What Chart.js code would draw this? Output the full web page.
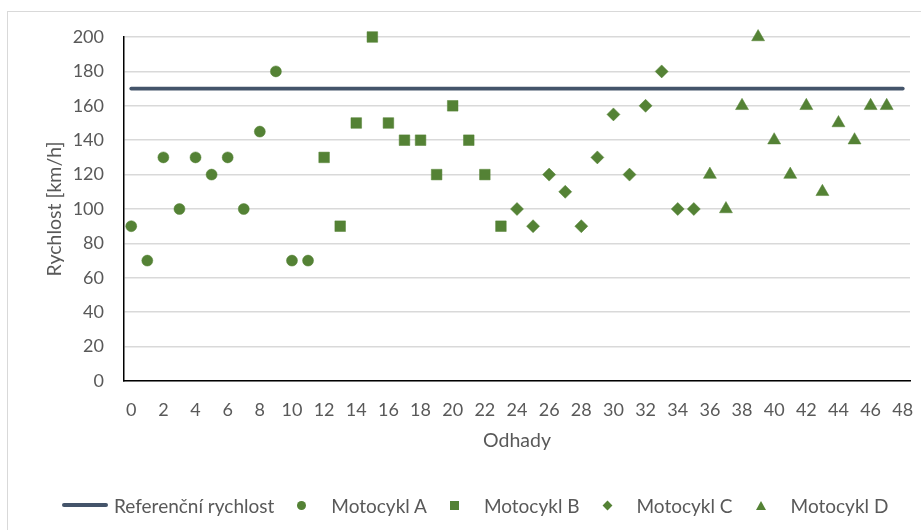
<!DOCTYPE html>
<html>
<head>
<meta charset="utf-8">
<script src="https://cdn.jsdelivr.net/npm/chart.js@4"></script>
<style>
  html, body { margin: 0; padding: 0; background: #fff; }
  #wrap { position: relative; width: 921px; height: 530px; overflow: hidden; }
  #frame { position: absolute; left: 7px; top: 11px; width: 960px; height: 560px;
           border-left: 1px solid #d9d9d9; border-top: 1px solid #d9d9d9; }
  #chart { position: absolute; left: 0; top: 0; }
  #legend { position: absolute; left: 62px; top: 494px; height: 22px; display: flex;
            align-items: center; font: 19px Lato, sans-serif; color: #595959; white-space: nowrap; }
  .mk { display: inline-block; flex: none; }
</style>
</head>
<body>
<div id="wrap">
  <div id="frame"></div>
  <canvas id="chart" width="921" height="530"></canvas>
  <div id="legend"></div>
</div>
<script>
const odhadyTicks = [0, 2, 4, 6, 8, 10, 12, 14, 16, 18, 20, 22, 24, 26, 28, 30, 32, 34, 36, 38, 40, 42, 44, 46, 48];
const refOdhady = [0, 48];
const refRychlost = [170, 170];

const motoA = [90, 70, 130, 100, 130, 120, 130, 100, 145, 180, 70, 70];
const motoB = [130, 90, 150, 200, 150, 140, 140, 120, 160, 140, 120, 90];
const motoC = [100, 90, 120, 110, 90, 130, 155, 120, 160, 180, 100, 100];
const motoD = [120, 100, 160, 200, 140, 120, 160, 110, 150, 140, 160, 160];

// first estimate number of each motorcycle
const seriesStart = [0, 12, 24, 36];
const seriesNames = ["Referenční rychlost", "Motocykl A", "Motocykl B", "Motocykl C", "Motocykl D"];

const green = "#548235";
const navy = "#44546A";
const FONT = "Lato, sans-serif";

const pointSets = [motoA, motoB, motoC, motoD];
const styles = ["circle", "rect", "rectRot", "triangle"];
const radii = [5.5, 7.5, 6.5, 7.5];

const datasets = [
  {
    type: "line",
    label: seriesNames[0],
    data: refOdhady.map((x, i) => ({ x: x, y: refRychlost[i] })),
    borderColor: navy,
    borderWidth: 3.75,
    borderCapStyle: "round",
    pointRadius: 0,
    fill: false,
    clip: false,
    order: 5
  }
].concat(pointSets.map((vals, s) => ({
  type: "scatter",
  label: seriesNames[s + 1],
  data: vals.map((v, i) => ({ x: seriesStart[s] + i, y: v })),
  pointStyle: styles[s],
  pointRadius: radii[s],
  pointHoverRadius: radii[s],
  backgroundColor: green,
  borderColor: green,
  borderWidth: 0.5,
  clip: false,
  order: 1
})));

new Chart(document.getElementById("chart"), {
  type: "scatter",
  data: { datasets },
  options: {
    responsive: false,
    animation: false,
    devicePixelRatio: 1,
    layout: { padding: { left: 40, top: 37, right: 11, bottom: 74 } },
    plugins: { legend: { display: false }, tooltip: { enabled: false } },
    scales: {
      x: {
        type: "linear",
        min: -0.45,
        max: 48.45,
        afterBuildTicks: (scale) => { scale.ticks = odhadyTicks.map((v) => ({ value: v })); },
        afterFit: (scale) => {
          scale.height = 75;
          // first/last labels sit inside the axis, no extra room needed
          scale.paddingLeft = 0;
          scale.paddingRight = 0;
        },
        grid: { display: false, drawTicks: false },
        border: { display: true, color: "#000", width: 1.5 },
        ticks: { color: "#595959", font: { family: FONT, size: 18 }, padding: 18, maxRotation: 0, autoSkip: false },
        title: { display: true, text: "Odhady", color: "#595959", font: { family: FONT, size: 19.5 } }
      },
      y: {
        min: 0,
        max: 200,
        afterFit: (scale) => { scale.width = 84; },
        grid: { color: "#d9d9d9", lineWidth: 1.5, drawTicks: false },
        border: { display: true, color: "#000", width: 1.5 },
        ticks: { stepSize: 20, color: "#595959", font: { family: FONT, size: 18 }, padding: 20 },
        title: { display: true, text: "Rychlost [km/h]", color: "#595959", font: { family: FONT, size: 19.5 }, padding: { top: 3 } }
      }
    }
  }
});

// legend below the chart
function marker(style) {
  const m = document.createElement("span");
  m.className = "mk";
  if (style === "line") {
    Object.assign(m.style, { width: "46px", height: "4px", background: navy, borderRadius: "2px", marginRight: "6px" });
  } else {
    m.style.marginLeft = "23px";
    m.style.marginRight = "25px";
    if (style === "circle") Object.assign(m.style, { width: "9px", height: "9px", borderRadius: "50%", background: green });
    if (style === "rect") Object.assign(m.style, { width: "9px", height: "9px", background: green });
    if (style === "rectRot") Object.assign(m.style, { width: "7px", height: "7px", background: green, transform: "rotate(45deg)", marginLeft: "24px", marginRight: "26px" });
    if (style === "triangle") Object.assign(m.style, { width: "0", height: "0", borderLeft: "5px solid transparent", borderRight: "5px solid transparent", borderBottom: "9px solid " + green });
  }
  return m;
}
const legend = document.getElementById("legend");
seriesNames.forEach((name, i) => {
  legend.appendChild(marker(i === 0 ? "line" : styles[i - 1]));
  const t = document.createElement("span");
  t.textContent = name;
  legend.appendChild(t);
});
</script>
</body>
</html>
